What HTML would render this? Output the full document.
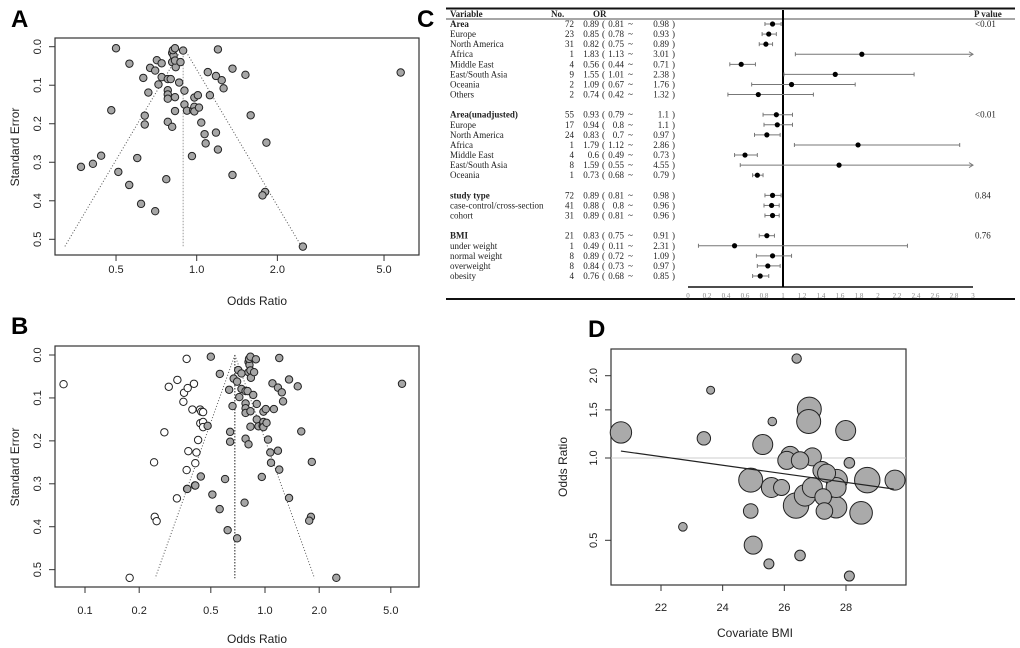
<!DOCTYPE html>
<html><head><meta charset="utf-8"><style>
body{margin:0;background:#fff;}
svg{display:block;font-family:"Liberation Sans",sans-serif;}
.ser{font-family:"Liberation Serif",serif;font-size:9px;fill:#222;}
.tk{font-size:11px;fill:#222;}
</style></head><body>
<svg id="fig" width="1020" height="648" viewBox="0 0 1020 648" xmlns="http://www.w3.org/2000/svg">
<text x="11" y="27" font-size="24" font-weight="bold">A</text>
<text x="11" y="334" font-size="24" font-weight="bold">B</text>
<text x="417" y="27" font-size="24" font-weight="bold">C</text>
<text x="588" y="337" font-size="24" font-weight="bold">D</text>
<g id="pa"></g>
<g id="pb"></g>
<g id="pc"></g>
<g id="pd"></g>
</svg>
<script>
// ---- Panel A / B data (odds ratio, standard error) ----
const studyOR=[0.50,0.561,0.48,0.632,0.67,0.70,0.71,0.74,0.66,0.72,0.74,0.78,0.80,0.78,0.78,0.78,0.78,0.81,0.81,0.82,0.815,0.83,0.81,0.835,0.83,0.83,0.83,0.87,0.86,0.89,0.90,0.90,0.92,0.97,0.98,0.98,0.98,1.01,1.02,0.96,1.04,1.07,1.08,1.10,1.12,1.18,1.20,1.24,1.26,1.18,1.20,1.36,1.36,1.52,1.59,1.82,1.80,1.76,2.49,5.77,0.64,0.64,0.60,0.44,0.41,0.37,0.51,0.56,0.62,0.70,0.77];
const studySE=[0.004,0.044,0.165,0.081,0.055,0.062,0.035,0.043,0.119,0.098,0.079,0.084,0.084,0.113,0.124,0.135,0.195,0.208,0.016,0.023,0.009,0.004,0.040,0.053,0.036,0.131,0.167,0.040,0.093,0.010,0.114,0.150,0.166,0.165,0.156,0.132,0.168,0.126,0.158,0.284,0.197,0.227,0.251,0.066,0.126,0.076,0.007,0.087,0.108,0.223,0.267,0.057,0.333,0.073,0.178,0.249,0.377,0.386,0.519,0.067,0.179,0.202,0.289,0.283,0.304,0.312,0.325,0.359,0.408,0.427,0.344];
const filledOR=[0.076,0.177,0.242,0.244,0.25,0.276,0.292,0.326,0.324,0.355,0.352,0.367,0.372,0.375,0.367,0.369,0.395,0.403,0.408,0.41,0.416,0.425,0.436,0.437,0.443,0.453,0.453,0.453];
const filledSE=[0.068,0.519,0.250,0.377,0.387,0.180,0.074,0.058,0.334,0.088,0.109,0.009,0.077,0.224,0.268,0.312,0.127,0.067,0.304,0.252,0.227,0.198,0.127,0.159,0.132,0.156,0.133,0.168];
const pooledA=0.89, pooledB=0.68, funnelMaxSE=0.52;
const seTicks=[0,0.1,0.2,0.3,0.4,0.5];
const seTickLabels=["0.0","0.1","0.2","0.3","0.4","0.5"];
const orTicksA=[0.5,1,2,5];
const orTickLabelsA=["0.5","1.0","2.0","5.0"];
const orTicksB=[0.1,0.2,0.5,1,2,5];
const orTickLabelsB=["0.1","0.2","0.5","1.0","2.0","5.0"];

// ---- Panel C data ----
const fpLabels=["Area","Europe","North America","Africa","Middle East","East/South Asia","Oceania","Others","Area(unadjusted)","Europe","North America","Africa","Middle East","East/South Asia","Oceania","study type","case-control/cross-section","cohort","BMI","under weight","normal weight","overweight","obesity"];
const fpRowIdx=[0,1,2,3,4,5,6,7,9,10,11,12,13,14,15,17,18,19,21,22,23,24,25];
const fpBold=[1,0,0,0,0,0,0,0,1,0,0,0,0,0,0,1,0,0,1,0,0,0,0];
const fpN=[72,23,31,1,4,9,2,2,55,17,24,1,4,8,1,72,41,31,21,1,8,8,4];
const fpOR=[0.89,0.85,0.82,1.83,0.56,1.55,1.09,0.74,0.93,0.94,0.83,1.79,0.6,1.59,0.73,0.89,0.88,0.89,0.83,0.49,0.89,0.84,0.76];
const fpLo=[0.81,0.78,0.75,1.13,0.44,1.01,0.67,0.42,0.79,0.8,0.7,1.12,0.49,0.55,0.68,0.81,0.8,0.81,0.75,0.11,0.72,0.73,0.68];
const fpHi=[0.98,0.93,0.89,3.01,0.71,2.38,1.76,1.32,1.1,1.1,0.97,2.86,0.73,4.55,0.79,0.98,0.96,0.96,0.91,2.31,1.09,0.97,0.85];
const fpP=["<0.01","","","","","","","","<0.01","","","","","","","0.84","","","0.76","","","",""];
const fpTicks=[0,0.2,0.4,0.6,0.8,1,1.2,1.4,1.6,1.8,2,2.2,2.4,2.6,2.8,3];

// ---- Panel D data ----
const bmi=[26.40,23.61,20.70,23.39,25.61,25.30,26.81,26.79,27.99,26.08,26.19,26.91,26.51,28.11,27.22,27.37,24.91,25.58,25.91,28.69,29.59,27.70,27.68,26.91,26.67,27.26,26.38,27.68,27.30,28.49,24.91,24.99,22.71,26.51,25.50,28.11];
const bubOR=[2.31,1.77,1.24,1.18,1.36,1.12,1.51,1.36,1.26,0.98,1.02,1.01,0.98,0.96,0.90,0.88,0.83,0.78,0.78,0.83,0.83,0.83,0.78,0.78,0.73,0.72,0.67,0.66,0.64,0.63,0.64,0.48,0.56,0.44,0.41,0.37];
const bubW=[4.7,4,10.7,6.7,4.3,10,12,12,10,9,9.3,9,8.7,5.3,9,9,12,10,8,12.7,10,10.7,10,10,10.7,8.3,12.7,10.7,8.3,11.3,7.3,9,4.3,5.3,5,5];
const regBMI=[20.7,29.55];
const regOR=[1.06,0.77];
const bmiTicks=[22,24,26,28];
const dOrTicks=[0.5,1.0,1.5,2.0];
const dOrTickLabels=["0.5","1.0","1.5","2.0"];

const NS="http://www.w3.org/2000/svg";
function mk(parent,tag,attrs,txt){const e=document.createElementNS(NS,tag);for(const k in attrs)e.setAttribute(k,attrs[k]);if(txt!==undefined)e.textContent=txt;parent.appendChild(e);return e;}

function funnel(g,box,xs,ys,xTicks,xLabels,pooled,pts,extra,ylabY,xlabY,xtY){
  const b=mk(g,'rect',{x:box.x0,y:box.y0,width:box.x1-box.x0,height:box.y1-box.y0,fill:'none',stroke:'#333','stroke-width':1.2});
  
  seTicks.forEach((v,i)=>{
    const y=ys(v);
    const t=mk(g,'line',{x1:box.x0,x2:box.x0-6,y1:y,y2:y,stroke:'#333'});
    
    const l=mk(g,'text',{x:0,y:0,transform:`translate(${box.x0-14},${y}) rotate(-90)`,'text-anchor':'middle',class:'tk'},seTickLabels[i]);
    
  });
  xTicks.forEach((v,i)=>{
    const x=xs(v);
    const t=mk(g,'line',{x1:x,x2:x,y1:box.y1,y2:box.y1+6,stroke:'#333'});
    
    const l=mk(g,'text',{x:x,y:xtY,'text-anchor':'middle',class:'tk'},xLabels[i]);
    
  });
  const yl=mk(g,'text',{x:0,y:0,transform:`translate(19,${ylabY}) rotate(-90)`,'text-anchor':'middle','font-size':12,fill:'#222'},'Standard Error');
  
  const xl=mk(g,'text',{x:(box.x0+box.x1)/2+20,y:xlabY,'text-anchor':'middle','font-size':12,fill:'#222'},'Odds Ratio');
  
  const top=ys(0),bot=ys(funnelMaxSE),cx=xs(pooled);
  const lo=xs(pooled*Math.exp(-1.96*funnelMaxSE)),hi=xs(pooled*Math.exp(1.96*funnelMaxSE));
  const v=mk(g,'line',{x1:cx,x2:cx,y1:top,y2:bot,stroke:extra?'#222':'#999','stroke-width':1,'stroke-dasharray':'1.5,1.5'});
  
  const f1=mk(g,'line',{x1:cx,y1:top,x2:lo,y2:bot,stroke:'#555','stroke-dasharray':'1,2'});
  
  const f2=mk(g,'line',{x1:cx,y1:top,x2:hi,y2:bot,stroke:'#555','stroke-dasharray':'1,2'});
  
  pts.forEach(p=>{
    const c=mk(g,'circle',{cx:xs(p[0]),cy:ys(p[1]),r:3.7,fill:p[2]?'#fff':'#a6a6a6',stroke:'#222','stroke-width':1});
    
    
  });
}
(function(){
  const g=document.getElementById('pa');
  const box={x0:55,x1:419,y0:38,y1:255};
  const xs=v=>196.7+268*Math.log10(v), ys=v=>46.7+385.2*v;
  const pts=studyOR.map((v,i)=>[v,studySE[i],0]);
  funnel(g,box,xs,ys,orTicksA,orTickLabelsA,pooledA,pts,false,147,305,273);
})();
(function(){
  const g=document.getElementById('pb');
  const box={x0:55,x1:419,y0:346,y1:587};
  const xs=v=>265+180*Math.log10(v), ys=v=>355+429.3*v;
  const pts=filledOR.map((v,i)=>[v,filledSE[i],1]).concat(studyOR.map((v,i)=>[v,studySE[i],0]));
  funnel(g,box,xs,ys,orTicksB,orTickLabelsB,pooledB,pts,true,467,643,614);
})();
(function(){
  const g=document.getElementById('pc');
  const xs=v=>688+95*v, rowY=k=>24+10.08*k;
  const l1=mk(g,'line',{x1:446,x2:1015,y1:8.5,y2:8.5,stroke:'#111','stroke-width':2});
  
  const l2=mk(g,'line',{x1:446,x2:1015,y1:19,y2:19,stroke:'#111','stroke-width':0.8});
  
  const l3=mk(g,'line',{x1:446,x2:1015,y1:299,y2:299,stroke:'#111','stroke-width':2});
  
  const hd=[["Variable",450,'start'],["No.",551,'start'],["OR",593,'start'],["P value",974,'start']];
  hd.forEach(h=>{const t=mk(g,'text',{x:h[1],y:17,class:'ser','font-weight':'bold','text-anchor':h[2]},h[0]);
    });
  const ax=mk(g,'line',{x1:688,x2:973,y1:287,y2:287,stroke:'#111','stroke-width':1.5});
  
  fpTicks.forEach(v=>{const t=mk(g,'text',{x:xs(v),y:298,'text-anchor':'middle','font-size':7,fill:'#888','font-family':'Liberation Serif,serif'},String(v));
    });
  const ref=mk(g,'line',{x1:xs(1),x2:xs(1),y1:10,y2:287,stroke:'#000','stroke-width':2});
  
  fpLabels.forEach((lab,i)=>{
    const y=rowY(fpRowIdx[i]), ty=y+3;
    const a={class:'ser'}; if(fpBold[i])a['font-weight']='bold';
    const t=mk(g,'text',Object.assign({x:450,y:ty},a),lab);
    
    const n=mk(g,'text',{x:574,y:ty,class:'ser','text-anchor':'end'},String(fpN[i]));
    
    const o=mk(g,'text',{x:599,y:ty,class:'ser','text-anchor':'end'},String(fpOR[i]));
    
    const p1=mk(g,'text',{x:602,y:ty,class:'ser'},'(');
    
    const lo=mk(g,'text',{x:624,y:ty,class:'ser','text-anchor':'end'},String(fpLo[i]));
    
    const tl=mk(g,'text',{x:628,y:ty,class:'ser',fill:'#666'},'~');
    
    const hi=mk(g,'text',{x:669,y:ty,class:'ser','text-anchor':'end'},String(fpHi[i]));
    
    const p2=mk(g,'text',{x:672,y:ty,class:'ser'},')');
    
    if(fpP[i]){const pv=mk(g,'text',{x:975,y:ty,class:'ser'},fpP[i]);
      }
    const x1=xs(fpLo[i]), arrow=fpHi[i]>3, x2=xs(Math.min(fpHi[i],3));
    const ci=mk(g,'line',{x1:x1,x2:x2,y1:y,y2:y,stroke:'#777','stroke-width':1});
    
    const c1=mk(g,'line',{x1:x1,x2:x1,y1:y-2,y2:y+2,stroke:'#777'});
    
    if(arrow){const ar=mk(g,'path',{d:`M${x2-4},${y-2.5}L${x2},${y}L${x2-4},${y+2.5}`,fill:'none',stroke:'#777'});
      }
    else{const c2=mk(g,'line',{x1:x2,x2:x2,y1:y-2,y2:y+2,stroke:'#777'});
      }
    const d=mk(g,'circle',{cx:xs(fpOR[i]),cy:y,r:2.6,fill:'#000'});
    
  });
})();
(function(){
  const g=document.getElementById('pd');
  const box={x0:611,x1:906,y0:349,y1:585};
  const xs=v=>661+30.83*(v-22), ys=v=>458-82.3*Math.log2(v);
  const f=mk(g,'rect',{x:box.x0,y:box.y0,width:box.x1-box.x0,height:box.y1-box.y0,fill:'none',stroke:'#333','stroke-width':1.2});
  
  const h=mk(g,'line',{x1:box.x0,x2:box.x1,y1:ys(1),y2:ys(1),stroke:'#ccc'});
  
  bmiTicks.forEach(v=>{
    const t=mk(g,'line',{x1:xs(v),x2:xs(v),y1:box.y1,y2:box.y1+6,stroke:'#333'});
    
    const l=mk(g,'text',{x:xs(v),y:611,'text-anchor':'middle',class:'tk'},String(v));
    
  });
  dOrTicks.forEach((v,i)=>{
    const y=ys(v);
    const t=mk(g,'line',{x1:box.x0,x2:box.x0-6,y1:y,y2:y,stroke:'#333'});
    
    const l=mk(g,'text',{x:0,y:0,transform:`translate(${box.x0-14},${y}) rotate(-90)`,'text-anchor':'middle',class:'tk'},dOrTickLabels[i]);
    
  });
  const yl=mk(g,'text',{x:0,y:0,transform:'translate(567,467) rotate(-90)','text-anchor':'middle','font-size':12,fill:'#222'},'Odds Ratio');
  
  const xl=mk(g,'text',{x:755,y:637,'text-anchor':'middle','font-size':12,fill:'#222'},'Covariate BMI');
  
  const order=bubW.map((w,i)=>i).sort((a,b)=>bubW[b]-bubW[a]);
  order.forEach(i=>{
    const c=mk(g,'circle',{cx:xs(bmi[i]),cy:ys(bubOR[i]),r:bubW[i],fill:'#aaa',stroke:'#222','stroke-width':1});
    
  });
  const rl=mk(g,'line',{x1:xs(regBMI[0]),y1:ys(regOR[0]),x2:xs(regBMI[1]),y2:ys(regOR[1]),stroke:'#222','stroke-width':1.2});
  
})();
</script>
</body></html>
